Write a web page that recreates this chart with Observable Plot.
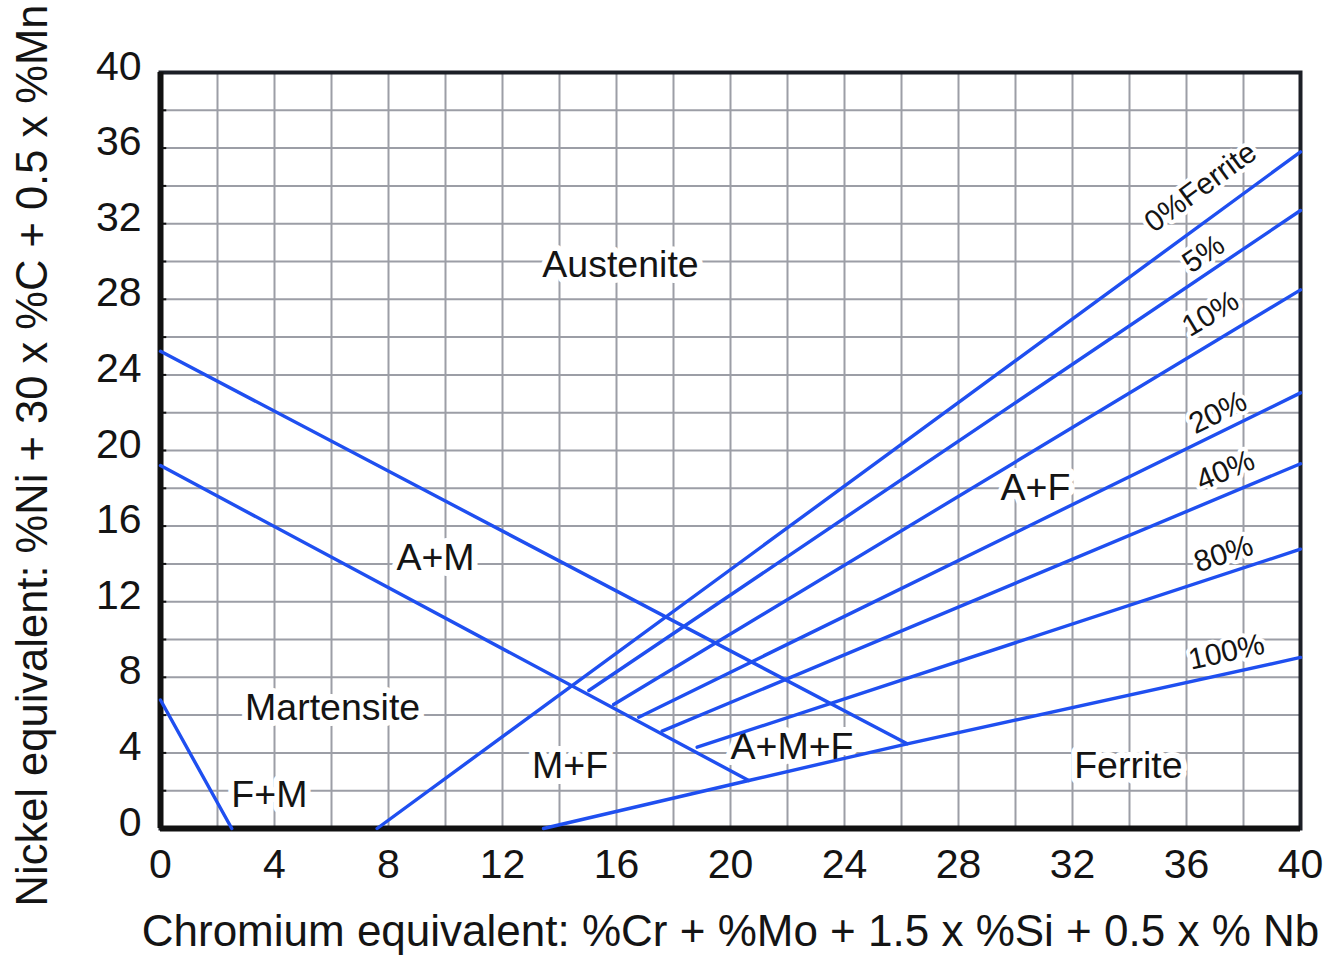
<!DOCTYPE html>
<html>
<head>
<meta charset="utf-8">
<script src="https://cdn.jsdelivr.net/npm/d3@7"></script>
<script src="https://cdn.jsdelivr.net/npm/@observablehq/plot@0.6"></script>
<style>
  html, body { margin: 0; padding: 0; background: #fff; }
  #chart { width: 1331px; height: 958px; overflow: hidden; }
</style>
</head>
<body>
<div id="chart"></div>
<script>
// ---- Data ----
const xTicks = [0, 4, 8, 12, 16, 20, 24, 28, 32, 36, 40];
const yTicks = [0, 4, 8, 12, 16, 20, 24, 28, 32, 36, 40];
const gridValues = [0, 2, 4, 6, 8, 10, 12, 14, 16, 18, 20, 22, 24, 26, 28, 30, 32, 34, 36, 38, 40];

const xTitle = "Chromium equivalent: %Cr + %Mo + 1.5 x %Si + 0.5 x % Nb";
const yTitle = "Nickel equivalent: %Ni + 30 x %C + 0.5 x %Mn";

// boundary lines: [Cr eq, Ni eq]
const fmBoundary = [[0, 6.8], [2.5, 0]];
const martensiteBoundary = [[0, 19.2], [20.64, 2.54]];
const austeniteBoundary = [[0, 25.25], [26.2, 4.48]];
const ferrite0 = [[7.6, 0], [40, 35.8]];
const ferrite5 = [[15.03, 7.3], [40, 32.7]];
const ferrite10 = [[15.9, 6.56], [40, 28.5]];
const ferrite20 = [[16.78, 5.89], [40, 23.05]];
const ferrite40 = [[17.6, 5.15], [40, 19.3]];
const ferrite80 = [[18.83, 4.3], [40, 14.78]];
const ferrite100 = [[13.44, 0], [20.64, 2.54], [26.2, 4.48], [40, 9.05]];

// region labels
const regionNames = ["Austenite", "A+M", "Martensite", "F+M", "M+F", "A+M+F", "A+F", "Ferrite"];
const regionX = [16.14, 9.65, 6.04, 3.82, 14.37, 22.16, 30.7, 33.96];
const regionY = [29.84, 14.29, 6.35, 1.75, 3.33, 4.29, 18.04, 3.33];

// iso-ferrite labels
const isoNames = ["0%Ferrite", "5%", "10%", "20%", "40%", "80%", "100%"];
const isoX = [36.49, 36.6, 36.84, 37.1, 37.37, 37.3, 37.4];
const isoY = [33.93, 30.4, 27.23, 22.0, 18.94, 14.53, 9.33];

// ---- Build tables ----
const boundaries = [
  ["fm", fmBoundary], ["m", martensiteBoundary], ["a", austeniteBoundary],
  ["f0", ferrite0], ["f5", ferrite5], ["f10", ferrite10], ["f20", ferrite20],
  ["f40", ferrite40], ["f80", ferrite80], ["f100", ferrite100]
];
const lineData = boundaries.flatMap(([id, pts]) => pts.map(([x, y]) => ({id, x, y})));
const isoLines = [ferrite0, ferrite5, ferrite10, ferrite20, ferrite40, ferrite80, ferrite100];

const W = 1331, H = 958;
const mL = 160, mR = 31, mT = 72, mB = 130;
const kx = (W - mL - mR) / 40, ky = (H - mT - mB) / 40;

const regions = regionNames.map((name, i) => ({name, x: regionX[i], y: regionY[i]}));
const isoLabels = isoNames.map((name, i) => {
  const pts = isoLines[i];
  const [a, b] = pts.slice(-2);
  const ang = -Math.atan(((b[1] - a[1]) * ky) / ((b[0] - a[0]) * kx)) * 180 / Math.PI;
  return {name, x: isoX[i], y: isoY[i], angle: ang};
});

const blue = "#1f4ff0";
const ink = "#141414";

const chart = Plot.plot({
  width: W, height: H,
  marginLeft: mL, marginRight: mR, marginTop: mT, marginBottom: mB,
  x: {domain: [0, 40]},
  y: {domain: [0, 40]},
  style: {fontFamily: "'Liberation Sans', Arial, Helvetica, sans-serif", background: "#fff", color: ink},
  marks: [
    Plot.gridX(gridValues, {stroke: "#9c9ea6", strokeOpacity: 1, strokeWidth: 2}),
    Plot.gridY(gridValues, {stroke: "#9c9ea6", strokeOpacity: 1, strokeWidth: 2}),
    Plot.ruleY(gridValues, {x1: 0, x2: 0.22, stroke: "#111", strokeWidth: 2}),
    Plot.frame({stroke: "#1c1f26", strokeWidth: 4}),
    Plot.ruleX([0], {stroke: "#111", strokeWidth: 6}),
    Plot.ruleY([0], {stroke: "#111", strokeWidth: 6}),
    Plot.axisX(xTicks, {tickSize: 0, tickPadding: 20, fontSize: 41, label: null, fill: ink}),
    Plot.axisY(yTicks, {tickSize: 0, tickPadding: 19, fontSize: 41, label: null, fill: ink, dy: -6}),
    Plot.text([xTitle], {frameAnchor: "bottom", textAnchor: "middle", dy: 117, fontSize: 44, fill: ink}),
    Plot.text([yTitle], {frameAnchor: "left", textAnchor: "middle", rotate: -90, dx: -127, dy: 5, fontSize: 43.5, fill: ink}),
    Plot.text(regions, {x: "x", y: "y", text: "name", fontSize: 37.5, fill: ink,
      stroke: "#fff", strokeWidth: 12, strokeLinejoin: "round"}),
    Plot.text(isoLabels, {x: "x", y: "y", text: "name", rotate: "angle", fontSize: 30, fill: ink,
      stroke: "#fff", strokeWidth: 8, strokeLinejoin: "round"}),
    Plot.line(lineData, {x: "x", y: "y", z: "id", stroke: blue, strokeWidth: 3.4, curve: "linear"})
  ]
});
document.getElementById("chart").appendChild(chart);
</script>
</body>
</html>
